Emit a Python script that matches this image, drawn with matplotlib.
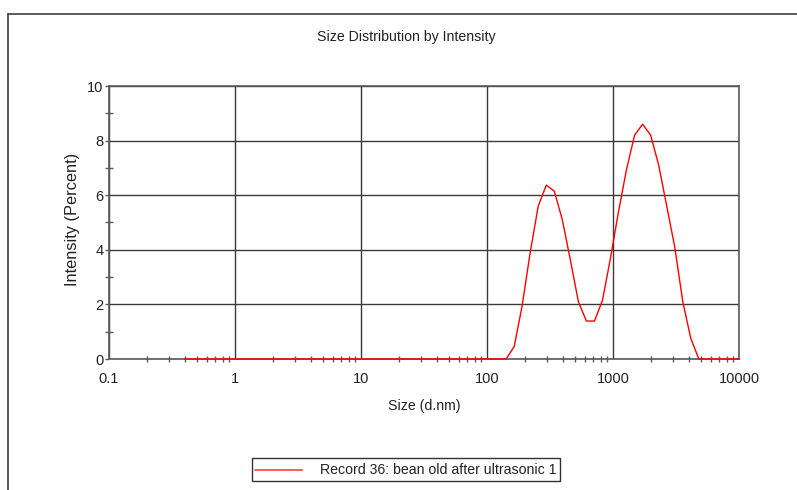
import matplotlib
matplotlib.use("Agg")
import matplotlib.pyplot as plt
from matplotlib.lines import Line2D
from matplotlib.ticker import FixedLocator, NullFormatter, FixedFormatter

plt.rcParams['font.family'] = ['Liberation Sans', 'DejaVu Sans']

# Size classes (d.nm) of the distribution
sizes = [0.4, 0.4632, 0.5365, 0.6213, 0.7195, 0.8332, 0.9649, 1.117, 1.294, 1.499,
         1.736, 2.010, 2.328, 2.696, 3.122, 3.615, 4.187, 4.849, 5.615, 6.503,
         7.531, 8.721, 10.10, 11.70, 13.54, 15.69, 18.17, 21.04, 24.36, 28.21,
         32.67, 37.84, 43.82, 50.75, 58.77, 68.06, 78.82, 91.28, 105.7, 122.4,
         141.8, 164.2, 190.1, 220.2, 255.0, 295.3, 342.0, 396.1, 458.7, 531.2,
         615.1, 712.4, 825.0, 955.4, 1106, 1281, 1484, 1718, 1990, 2305,
         2669, 3091, 3580, 4145, 4801, 5560, 6439, 7456, 8635, 10000]

# Intensity (%) per size class
intensity = [0.0] * 41 + [
    0.45, 1.95, 3.9, 5.6, 6.37, 6.15, 5.1, 3.63, 2.1, 1.39,
    1.39, 2.15, 3.7, 5.4, 6.95, 8.2, 8.6, 8.2, 7.1, 5.6,
    4.1, 2.1, 0.75] + [0.0] * 6

x_ticks = [0.1, 1, 10, 100, 1000, 10000]
x_tick_labels = ["0.1", "1", "10", "100", "1000", "10000"]
y_ticks = [0, 2, 4, 6, 8, 10]
y_minor = [1, 3, 5, 7, 9]

title = "Size Distribution by Intensity"
x_label = "Size (d.nm)"
y_label = "Intensity (Percent)"
series_label = "Record 36: bean old after ultrasonic 1"

W, H = 797, 490
fig = plt.figure(figsize=(W / 100, H / 100), dpi=100)
fig.patch.set_facecolor("white")

ax = fig.add_axes([109 / W, 1 - 359 / H, (739 - 109) / W, (359 - 86) / H])
line, = ax.plot(sizes, intensity, color="#ff0000", lw=1.0, zorder=5, clip_on=False,
                label=series_label)

ax.set_xscale("log")
ax.set_xlim(0.1, 10000)
ax.set_ylim(0, 10)

grid_col = "#3a3a3a"
axis_col = "#5a5a5a"
for s in ax.spines.values():
    s.set_color(axis_col)
    s.set_linewidth(1.2)

ax.xaxis.set_major_locator(FixedLocator(x_ticks))
ax.xaxis.set_major_formatter(FixedFormatter(x_tick_labels))
minors = [m * d for d in [0.1, 1, 10, 100, 1000] for m in range(2, 10)]
ax.xaxis.set_minor_locator(FixedLocator(minors))
ax.xaxis.set_minor_formatter(NullFormatter())
ax.yaxis.set_major_locator(FixedLocator(y_ticks))
ax.yaxis.set_minor_locator(FixedLocator(y_minor))

ax.grid(True, which="major", color=grid_col, lw=1.0)
ax.set_axisbelow(True)

ax.tick_params(axis="x", which="major", length=0, pad=9, labelsize=10.5, labelcolor="#222222")
ax.tick_params(axis="x", which="minor", direction="inout", length=4, width=1, color=axis_col)
ax.tick_params(axis="y", which="major", direction="out", length=3, width=1, color=axis_col,
               pad=1, labelsize=10.5, labelcolor="#222222")
ax.tick_params(axis="y", which="minor", direction="inout", length=6, width=1, color=axis_col)

fig.text(406 / W, 1 - 37 / H, title, ha="center", va="center", fontsize=10.2, color="#222222")
fig.text(424 / W, 1 - 406 / H, x_label, ha="center", va="center", fontsize=10.2, color="#222222")
fig.text(73 / W, 1 - 219 / H, y_label, ha="center", va="center", rotation=90,
         fontsize=11.8, color="#222222")

# Outer panel frame (left and top edges)
fig.add_artist(Line2D([8 / W, 8 / W], [0, 1 - 14 / H], transform=fig.transFigure,
                      color="#404040", lw=1.2))
fig.add_artist(Line2D([8 / W, 1], [1 - 14 / H, 1 - 14 / H], transform=fig.transFigure,
                      color="#404040", lw=1.2))

# Legend box
leg_x0, leg_x1, leg_y0, leg_y1 = 252, 560, 458, 481
fig.add_artist(plt.Rectangle((leg_x0 / W, 1 - leg_y1 / H), (leg_x1 - leg_x0) / W,
                             (leg_y1 - leg_y0) / H, transform=fig.transFigure,
                             fill=False, edgecolor="#333333", lw=1.0))
fig.add_artist(Line2D([255 / W, 302 / W], [1 - 469.5 / H, 1 - 469.5 / H],
                      transform=fig.transFigure, color="#ff4040", lw=1.2))
fig.text(557 / W, 1 - 469.5 / H, series_label, ha="right", va="center", fontsize=10.2,
         color="#222222")

fig.savefig("out.png", dpi=100)
